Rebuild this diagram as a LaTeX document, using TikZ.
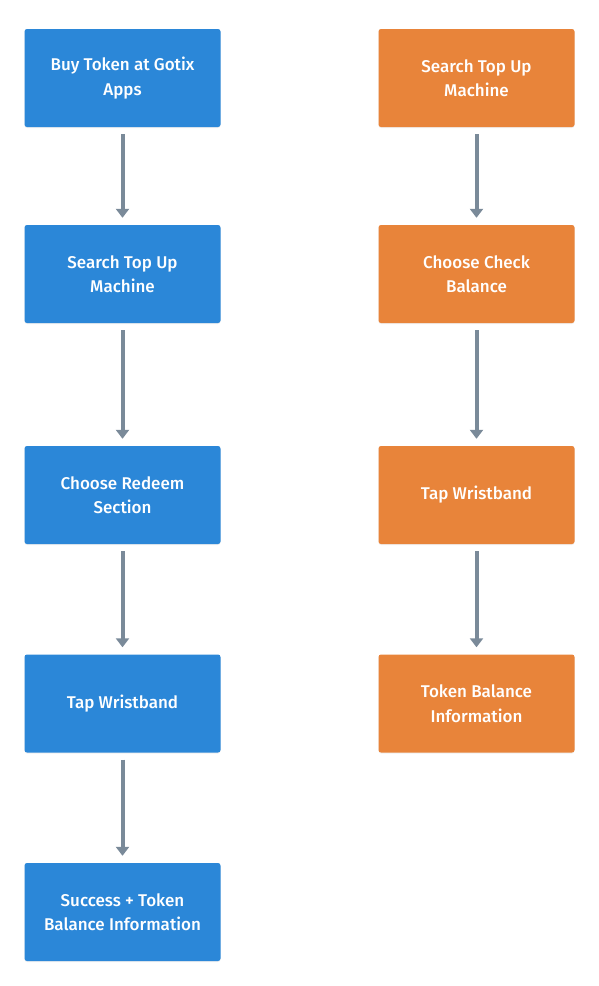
\documentclass[tikz,border=0pt]{standalone}
\usepackage{fontspec}
\setmainfont{Fira Sans Medium}
\usetikzlibrary{arrows.meta,shadows}
\definecolor{bluebox}{RGB}{43,135,216}
\definecolor{orangebox}{RGB}{232,132,58}
\definecolor{arrowgray}{RGB}{122,138,153}
\tikzset{
  box/.style={rectangle, rounded corners=2.5pt, minimum width=196pt, minimum height=98pt,
    inner sep=0pt, align=center, text=white,
    font=\fontsize{17}{24.5}\selectfont,
    drop shadow={shadow xshift=0pt, shadow yshift=-1pt, opacity=0.12}},
  bbox/.style={box, fill=bluebox},
  obox/.style={box, fill=orangebox},
  flow/.style={draw=arrowgray, line width=4pt, -{Triangle[width=13pt,length=9pt]},
    shorten <=7pt, shorten >=7pt}
}
\begin{document}
\begin{tikzpicture}[x=1pt,y=-1pt]
\useasboundingbox (0,0) rectangle (598,986);
\node[bbox] (l1) at (122.5,78) {Buy Token at Gotix\\Apps};
\node[bbox] (l2) at (122.5,274) {Search Top Up\\Machine};
\node[bbox] (l3) at (122.5,495) {Choose Redeem\\Section};
\node[bbox] (l4) at (122.5,703.5) {Tap Wristband};
\node[bbox] (l5) at (122.5,912) {Success + Token\\Balance Information};
\node[obox] (r1) at (476.5,78) {Search Top Up\\Machine};
\node[obox] (r2) at (476.5,274) {Choose Check\\Balance};
\node[obox] (r3) at (476.5,495) {Tap Wristband};
\node[obox] (r4) at (476.5,703.5) {Token Balance\\Information};
\draw[flow] (l1) -- (l2);
\draw[flow] (l2) -- (l3);
\draw[flow] (l3) -- (l4);
\draw[flow] (l4) -- (l5);
\draw[flow] (r1) -- (r2);
\draw[flow] (r2) -- (r3);
\draw[flow] (r3) -- (r4);
\end{tikzpicture}
\end{document}
